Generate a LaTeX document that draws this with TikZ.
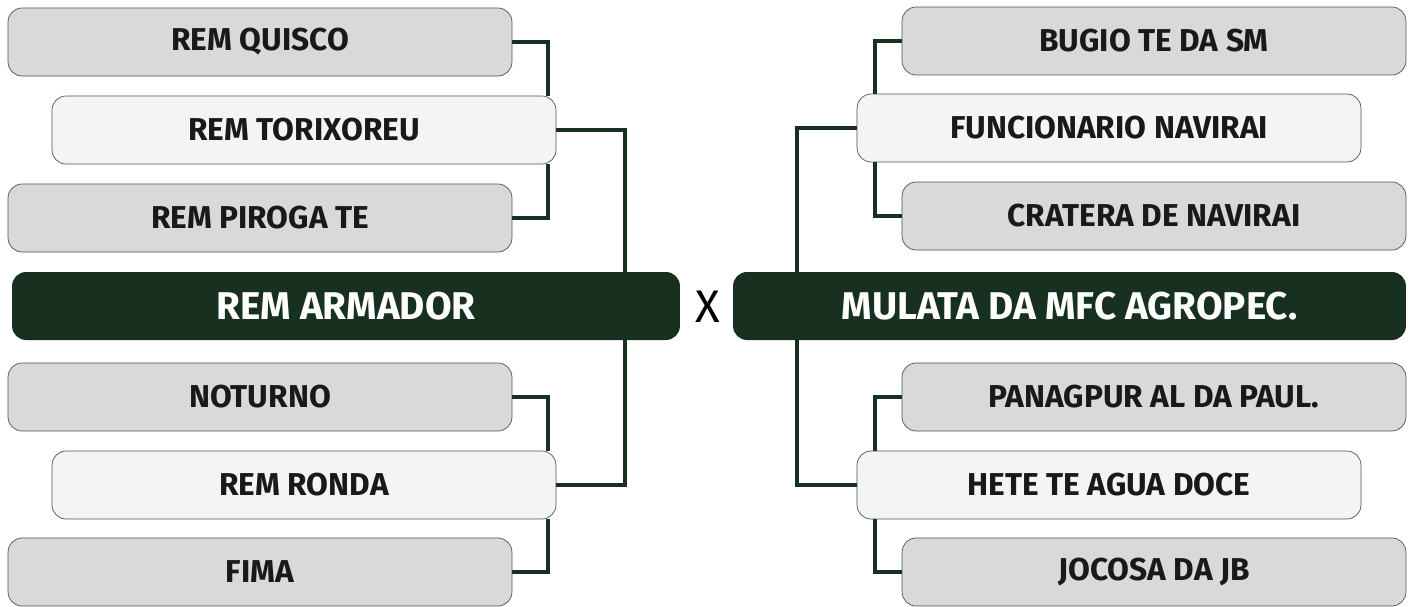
\documentclass[tikz,border=0pt]{standalone}
\usepackage{fontspec}
\setmainfont{Fira Sans}
\definecolor{darkgreen}{HTML}{17301F}
\definecolor{boxgray}{HTML}{D9D9D9}
\definecolor{boxlight}{HTML}{F4F4F4}
\begin{document}
\begin{tikzpicture}[x=0.02cm, y=-0.02cm,
    team/.style={draw=darkgreen!80, thin, rounded corners=0.28cm, fill=boxgray,
      minimum width=10.08cm, minimum height=1.36cm, text=black!90,
      font=\fontsize{18}{20}\selectfont\bfseries},
    winner/.style={team, fill=boxlight},
    final/.style={fill=darkgreen, rounded corners=0.28cm, text=white,
      minimum height=1.36cm, font=\fontsize{22}{24}\selectfont\bfseries},
    link/.style={draw=darkgreen, line width=2.3pt}]
    \useasboundingbox (0,0) rectangle (1414,606);
    % Nodes
    \node[team] (q1) at (260,42) {REM QUISCO};
    \node[winner] (q2) at (304,130) {REM TORIXOREU};
    \node[team] (q3) at (260,218) {REM PIROGA TE};
    \node[final, minimum width=13.36cm] (armador) at (346,306) {REM ARMADOR};
    \node[font=\fontsize{26}{28}\selectfont] (vs) at (708,307) {X};
    \node[final, minimum width=13.46cm] (mulata) at (1069.5,306) {MULATA DA MFC AGROPEC.};
    \node[team] (n1) at (260,397) {NOTURNO};
    \node[winner] (n2) at (304,485) {REM RONDA};
    \node[team] (n3) at (260,572) {FIMA};
    \node[team] (b1) at (1154,41) {BUGIO TE DA SM};
    \node[winner] (b2) at (1109,128) {FUNCIONARIO NAVIRAI};
    \node[team] (b3) at (1154,216) {CRATERA DE NAVIRAI};
    \node[team] (p1) at (1154,397) {PANAGPUR AL DA PAUL.};
    \node[winner] (p2) at (1109,485) {HETE TE AGUA DOCE};
    \node[team] (p3) at (1154,572) {JOCOSA DA JB};
    % Connection
    \draw[link] (q1.east) -| ([xshift=-0.16cm]q2.north east);
    \draw[link] ([xshift=-0.16cm]q2.south east) |- (q3.east);
    \draw[link] (q2.east) -| ([xshift=-1.1cm]armador.north east);
    \draw[link] ([xshift=-1.1cm]armador.south east) |- (n2.east);
    \draw[link] (n1.east) -| ([xshift=-0.16cm]n2.north east);
    \draw[link] ([xshift=-0.16cm]n2.south east) |- (n3.east);
    \draw[link] (b1.west) -| ([xshift=0.36cm]b2.north west);
    \draw[link] ([xshift=0.36cm]b2.south west) |- (b3.west);
    \draw[link] (b2.west) -| ([xshift=1.28cm]mulata.north west);
    \draw[link] ([xshift=1.28cm]mulata.south west) |- (p2.west);
    \draw[link] (p1.west) -| ([xshift=0.36cm]p2.north west);
    \draw[link] ([xshift=0.36cm]p2.south west) |- (p3.west);
  \end{tikzpicture}
\end{document}
